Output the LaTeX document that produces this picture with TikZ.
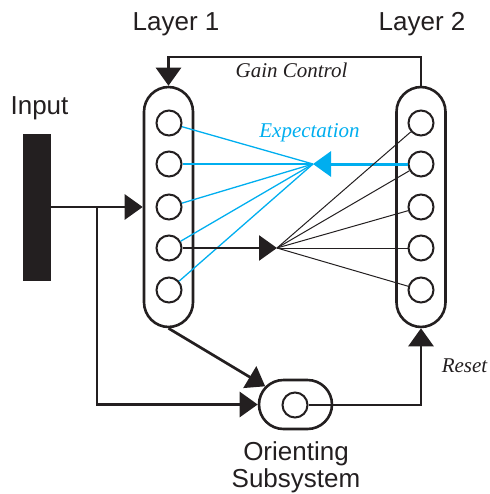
\documentclass[tikz,border=0pt]{standalone}
\usepackage{fontspec}
\setmainfont{Liberation Sans}
\newfontfamily\timesit{Liberation Serif}
\usetikzlibrary{arrows.meta,shapes.misc}
\definecolor{ink}{RGB}{35,31,32}
\definecolor{cyanln}{RGB}{0,174,239}
\begin{document}
\begin{tikzpicture}[x=0.5pt,y=-0.5pt,
  pill/.style={draw=ink,line width=1.3pt,rectangle,rounded corners=12.4pt,minimum width=24.5pt,minimum height=120pt,inner sep=0pt},
  cell/.style={draw=ink,line width=1pt,circle,minimum size=12.5pt,inner sep=0pt},
  tri/.style={-{Triangle[length=9pt,width=12.5pt]}},
  thickln/.style={ink,line width=1.35pt},
  lbl/.style={font=\fontsize{13}{15}\selectfont,text=ink,inner sep=0pt,anchor=base},
  itl/.style={font=\fontsize{10.5}{12}\selectfont\timesit\itshape,inner sep=0pt,anchor=base},
  thinbl/.style={cyanln,line width=0.65pt},
  thinbk/.style={ink,line width=0.5pt}]
\useasboundingbox (0,0) rectangle (490,494);
% pills
\node[pill] (p1) at (168.5,207) {};
\node[pill] (p2) at (421,207) {};
\foreach \i/\y in {1/123,2/164,3/207,4/248,5/290}{
  \node[cell] (a\i) at (169,\y) {};
  \node[cell] (b\i) at (421,\y) {};
}
% input bar
\node[fill=ink,minimum width=14pt,minimum height=73.5pt,inner sep=0pt] (inbar) at (37,207) {};
% orienting subsystem
\node[draw=ink,line width=1.3pt,rounded rectangle,minimum width=36.5pt,minimum height=24.5pt,inner sep=0pt] (os) at (295.5,404.5) {};
\node[cell] (oc) at (295,405) {};
% labels
\node[lbl] (l1) at (176,30) {Layer 1};
\node[lbl] (l2) at (422,30) {Layer 2};
\node[lbl] (inp) at (39.5,114) {Input};
\node[lbl] (or1) at (296,460) {Orienting};
\node[lbl] (or2) at (296,487) {Subsystem};
\node[itl,text=ink] (gcl) at (291.5,77) {Gain Control};
\node[itl,text=cyanln] (exl) at (309.5,137.5) {Expectation};
\node[itl,text=ink] (rsl) at (464.5,372) {Reset};
% coordinates
\coordinate (gctop) at (295,57);
\coordinate (br) at (97,207);
\coordinate (econv) at (313,164);
\coordinate (bconv) at (277,248);
% gain control
\draw[thickln,tri] (p2.north) |- (gctop) -| (p1.north);
% input
\draw[thickln,tri] (inbar.east) -- (p1.west);
\draw[thickln,tri] (br) |- (os.west);
% layer1 to orienting
\draw[thickln,tri] (p1.south) -- (os);
% reset
\draw[thickln,tri] (oc.east) -| (p2.south);
% expectation lines
\foreach \i in {1,...,5}{\draw[thinbl] (a\i) -- (econv);}
\draw[cyanln,line width=1.5pt,tri] (b2.west) -- (econv);
% bottom-up
\foreach \i in {1,...,5}{\draw[thinbk] (bconv) -- (b\i);}
\draw[thickln,tri] (a4.east) -- (bconv);
\end{tikzpicture}
\end{document}
